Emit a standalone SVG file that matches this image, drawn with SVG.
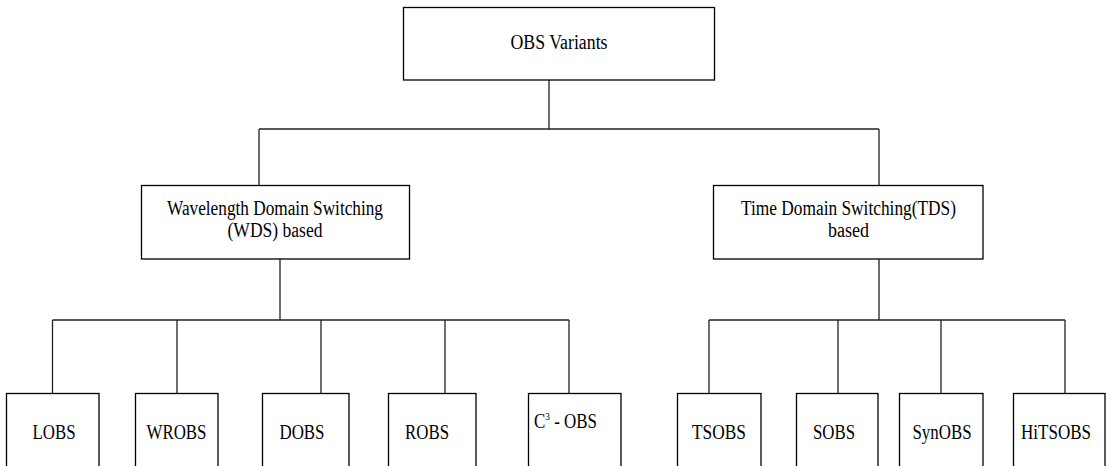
<svg xmlns="http://www.w3.org/2000/svg" width="1111" height="466" viewBox="0 0 1111 466">
<style>
.box{fill:#fff;stroke:#000;stroke-width:1.3}
.ln{fill:none;stroke:#222;stroke-width:1.3}
text{font-family:"Liberation Serif","Times New Roman",serif;font-size:20px;fill:#000;text-anchor:middle}
.sup{font-size:11px}
</style>
<rect width="1111" height="466" fill="#fff"/>
<g id="connectors">
<path class="ln" d="M549,80V129M259,129H879M259,129V185M879,129V185"/>
<path class="ln" d="M280,259V320M52.5,320H569M52.5,320V393M177,320V393M321,320V393M445,320V393M569,320V393"/>
<path class="ln" d="M879,259V320M709,320H1065M709,320V393M838,320V393M941,320V393M1065,320V393"/>
</g>
<g id="obs-variants"><rect class="box" x="403.5" y="7.5" width="311" height="72.5"/><text x="559" y="49" textLength="97" lengthAdjust="spacingAndGlyphs">OBS Variants</text></g>
<g id="wds"><rect class="box" x="141.5" y="185.5" width="268" height="73.5"/><text x="275" y="215" textLength="216" lengthAdjust="spacingAndGlyphs">Wavelength Domain Switching</text><text x="275" y="237" textLength="95" lengthAdjust="spacingAndGlyphs">(WDS) based</text></g>
<g id="tds"><rect class="box" x="713.5" y="185.5" width="269.5" height="73.5"/><text x="848.5" y="215" textLength="215" lengthAdjust="spacingAndGlyphs">Time Domain Switching(TDS)</text><text x="848.5" y="237" textLength="41" lengthAdjust="spacingAndGlyphs">based</text></g>
<g id="lobs"><rect class="box" x="6.5" y="393.5" width="92.5" height="80"/><text x="54" y="439" textLength="43" lengthAdjust="spacingAndGlyphs">LOBS</text></g>
<g id="wrobs"><rect class="box" x="135.5" y="393.5" width="82.5" height="80"/><text x="176.5" y="439" textLength="60" lengthAdjust="spacingAndGlyphs">WROBS</text></g>
<g id="dobs"><rect class="box" x="262.5" y="393.5" width="86.5" height="80"/><text x="302" y="439" textLength="45" lengthAdjust="spacingAndGlyphs">DOBS</text></g>
<g id="robs"><rect class="box" x="388.5" y="393.5" width="87.5" height="80"/><text x="427" y="439" textLength="44" lengthAdjust="spacingAndGlyphs">ROBS</text></g>
<g id="c3obs"><rect class="box" x="528.5" y="393.5" width="92.5" height="80"/><text x="534" y="428" style="text-anchor:start" textLength="63" lengthAdjust="spacingAndGlyphs">C<tspan class="sup" dy="-8">3</tspan><tspan dy="8"> - OBS</tspan></text></g>
<g id="tsobs"><rect class="box" x="677.5" y="393.5" width="83.5" height="80"/><text x="719" y="439" textLength="54" lengthAdjust="spacingAndGlyphs">TSOBS</text></g>
<g id="sobs"><rect class="box" x="796.5" y="393.5" width="81.5" height="80"/><text x="834" y="439" textLength="42" lengthAdjust="spacingAndGlyphs">SOBS</text></g>
<g id="synobs"><rect class="box" x="899.5" y="393.5" width="83.5" height="80"/><text x="942" y="439" textLength="59" lengthAdjust="spacingAndGlyphs">SynOBS</text></g>
<g id="hitsobs"><rect class="box" x="1013.5" y="393.5" width="91.5" height="80"/><text x="1056" y="439" textLength="70" lengthAdjust="spacingAndGlyphs">HiTSOBS</text></g>
</svg>
